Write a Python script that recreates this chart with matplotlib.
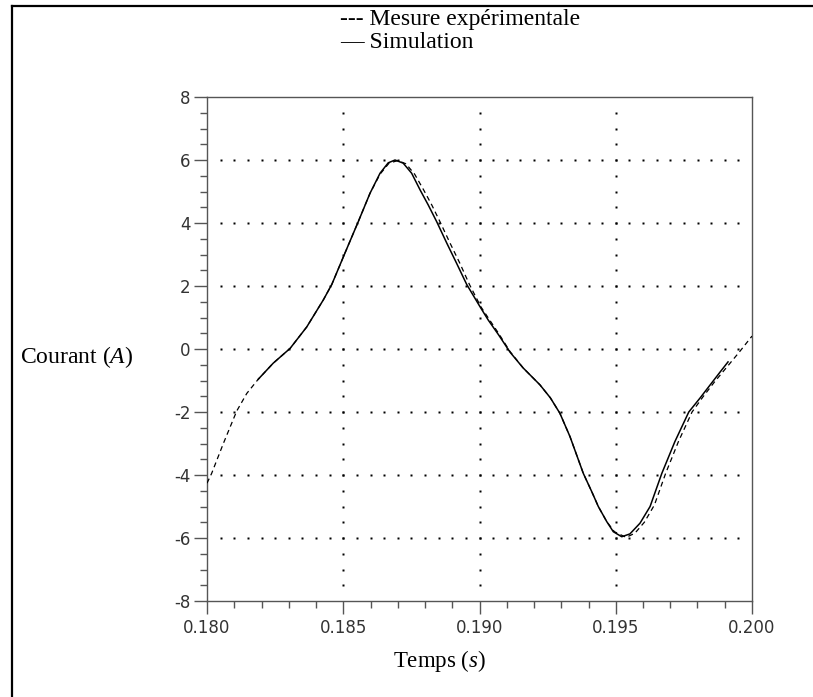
import numpy as np
import matplotlib
matplotlib.use("Agg")
import matplotlib.pyplot as plt
from matplotlib.lines import Line2D
from matplotlib.ticker import MultipleLocator

plt.rcParams['axes.unicode_minus'] = False
plt.rcParams['mathtext.fontset'] = 'custom'
plt.rcParams['mathtext.it'] = 'Liberation Serif:italic'
plt.rcParams['mathtext.rm'] = 'Liberation Serif'

# ---- data ----
sim_t = [0.18188, 0.18243, 0.18305, 0.18366, 0.18427, 0.18458, 0.18506, 0.18555,
         0.18598, 0.18635, 0.18665, 0.18690, 0.18720, 0.18751, 0.18782, 0.18812,
         0.18843, 0.18880, 0.18916, 0.18953, 0.19002, 0.19032, 0.19070, 0.19112,
         0.19160, 0.19222, 0.19260, 0.19295, 0.19332, 0.19381, 0.19412, 0.19436,
         0.19467, 0.19491, 0.19522, 0.19552, 0.19589, 0.19626, 0.19669, 0.19717,
         0.19768, 0.19809, 0.19850, 0.19883, 0.19912]
sim_i = [-0.96, -0.45, 0.02, 0.70, 1.56, 2.05, 3.04, 4.04,
         4.94, 5.58, 5.91, 6.00, 5.90, 5.58, 5.05, 4.57,
         4.04, 3.36, 2.72, 2.05, 1.34, 0.92, 0.45, -0.10,
         -0.60, -1.14, -1.55, -2.04, -2.78, -3.95, -4.53, -5.00,
         -5.48, -5.80, -5.96, -5.87, -5.53, -5.00, -3.95, -2.94,
         -2.00, -1.56, -1.10, -0.73, -0.41]

mes_t = [0.18000, 0.18017, 0.18060, 0.18109, 0.18146, 0.18188, 0.18243, 0.18305,
         0.18366, 0.18427, 0.18458, 0.18506, 0.18555, 0.18598, 0.18635, 0.18668,
         0.18700, 0.18730, 0.18762, 0.18795, 0.18825, 0.18855, 0.18892, 0.18928,
         0.18963, 0.19005, 0.19035, 0.19072, 0.19112, 0.19160, 0.19222, 0.19260,
         0.19295, 0.19332, 0.19381, 0.19412, 0.19436, 0.19467, 0.19495, 0.19538,
         0.19570, 0.19605, 0.19642, 0.19683, 0.19730, 0.19780, 0.19820, 0.19862,
         0.19910, 0.19955, 0.20000]
mes_i = [-4.26, -3.95, -3.00, -1.97, -1.41, -0.96, -0.45, 0.02,
         0.70, 1.56, 2.05, 3.04, 4.04, 4.94, 5.55, 5.90,
         5.98, 5.88, 5.55, 5.05, 4.57, 4.04, 3.36, 2.72,
         2.05, 1.34, 0.95, 0.47, -0.08, -0.60, -1.14, -1.55,
         -2.04, -2.78, -3.95, -4.53, -5.00, -5.48, -5.80, -5.98,
         -5.85, -5.50, -4.95, -3.95, -2.94, -2.00, -1.52, -1.05,
         -0.55, -0.08, 0.41]

x_ticks = [0.180, 0.185, 0.190, 0.195, 0.200]
x_labels = ['0.180', '0.185', '0.190', '0.195', '0.200']
y_ticks = [-8, -6, -4, -2, 0, 2, 4, 6, 8]
grid_x = [0.185, 0.190, 0.195]
grid_y = [-6, -4, -2, 0, 2, 4, 6]

W, H = 813, 697
fig = plt.figure(figsize=(W / 100, H / 100), dpi=100)
ax = fig.add_axes([207 / W, 1 - 601 / H, (752 - 207) / W, (601 - 97) / H])

# dotted grid (square dots)
dot_xs = np.arange(0.1805, 0.19951, 0.0005)
dot_ys = np.arange(-7.5, 7.51, 0.5)
for gy in grid_y:
    ax.plot(dot_xs, np.full_like(dot_xs, gy), ls='none', marker='s', ms=2.0,
            mfc='black', mec='none', zorder=1)
for gx in grid_x:
    ax.plot(np.full_like(dot_ys, gx), dot_ys, ls='none', marker='s', ms=2.0,
            mfc='black', mec='none', zorder=1)

ax.plot(mes_t, mes_i, color='black', lw=0.9, ls=(0, (4, 3)), zorder=3)
ax.plot(sim_t, sim_i, color='black', lw=1.1, ls='-', zorder=4)

ax.set_xlim(0.180, 0.200)
ax.set_ylim(-8, 8)
ax.set_xticks(x_ticks)
ax.set_xticklabels(x_labels)
ax.set_yticks(y_ticks)
ax.xaxis.set_minor_locator(MultipleLocator(0.001))
ax.yaxis.set_minor_locator(MultipleLocator(0.5))

spine_c = '#555555'
for s in ax.spines.values():
    s.set_color(spine_c)
    s.set_linewidth(1.0)
ax.tick_params(which='major', direction='out', length=9.7, width=1.0,
               color=spine_c, labelsize=12, labelcolor='#333333')
ax.tick_params(axis='y', which='major', pad=2.2)
ax.tick_params(axis='x', which='major', pad=3.0)
ax.tick_params(which='minor', direction='out', length=4.7, width=1.0, color=spine_c)
ax.tick_params(top=False, right=False, which='both')
for lab in ax.get_xticklabels() + ax.get_yticklabels():
    lab.set_family('DejaVu Sans')

serif = 'Liberation Serif'
fig.text(20 / W, 1 - 357 / H, r'Courant ($\mathit{A}$)', family=serif, fontsize=17,
         ha='left', va='center')
fig.text(440 / W, 1 - 661 / H, r'Temps ($\mathit{s}$)', family=serif, fontsize=16.5,
         ha='center', va='center')
fig.text(340 / W, 1 - 19 / H, '--- Mesure expérimentale', family=serif, fontsize=17,
         ha='left', va='center')
fig.text(340 / W, 1 - 43 / H, '— Simulation', family=serif, fontsize=17,
         ha='left', va='center')

# partial page frame (top and left edges)
fig.add_artist(Line2D([12 / W, 1.0], [1 - 5.5 / H, 1 - 5.5 / H], color='black',
                      lw=1.6, transform=fig.transFigure))
fig.add_artist(Line2D([12 / W, 12 / W], [1 - 5.5 / H, 0.0], color='black',
                      lw=1.6, transform=fig.transFigure))

fig.savefig('out.png', dpi=100)
